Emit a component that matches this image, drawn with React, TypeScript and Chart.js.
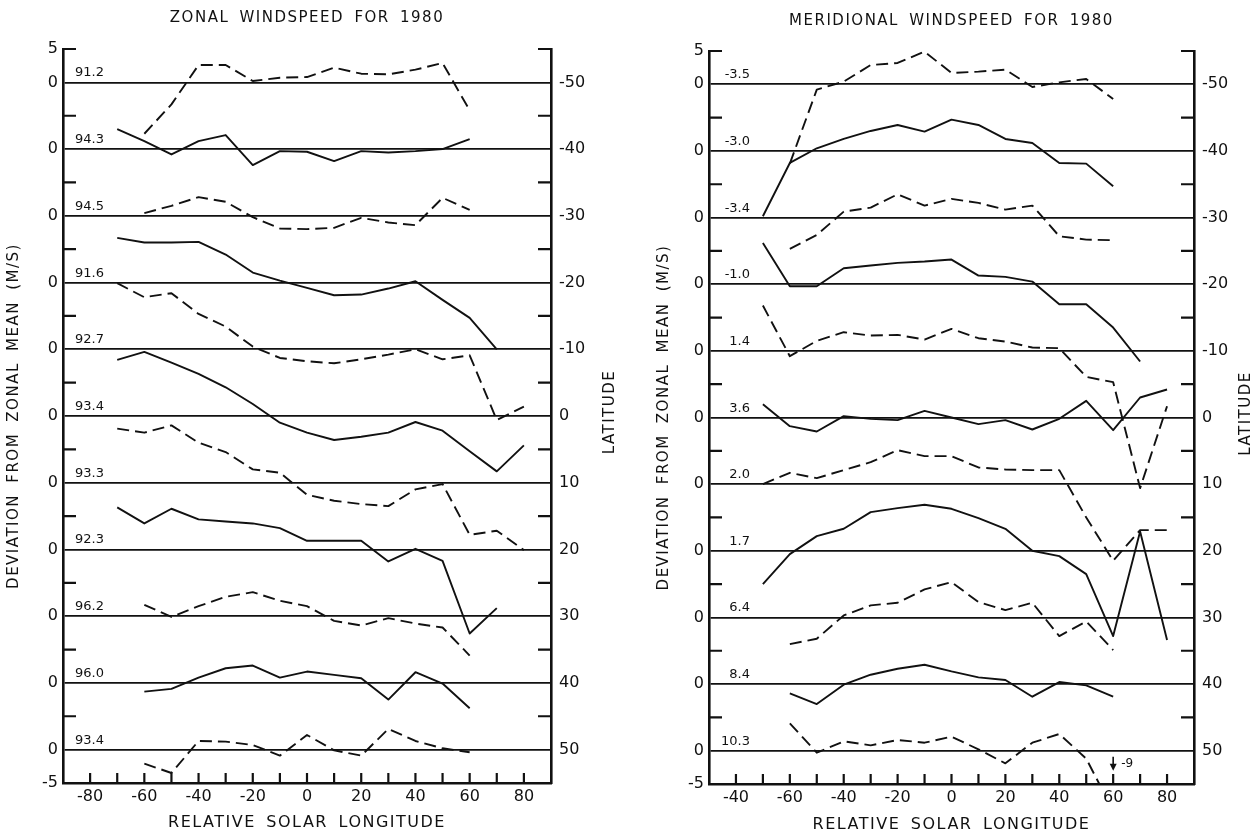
import React, { useEffect, useRef } from "react";
import { Chart, registerables } from "chart.js";

Chart.register(...registerables);

// ---------- data ----------
const longitudes = [-70, -60, -50, -40, -30, -20, -10, 0, 10, 20, 30, 40, 50, 60, 70, 80];
const latitudes = [-50, -40, -30, -20, -10, 0, 10, 20, 30, 40, 50];

// Zonal windspeed deviations (m/s) per latitude line
const zonalMeanLabels = ["91.2", "94.3", "94.5", "91.6", "92.7", "93.4", "93.3", "92.3", "96.2", "96.0", "93.4"];
const zonal50S = [null, -7.7, -3.3, 2.6, 2.6, 0.2, 0.7, 0.8, 2.2, 1.3, 1.2, 1.9, 2.9, -4.2, null, null];
const zonal40S = [3.0, 1.2, -0.8, 1.2, 2.1, -2.4, -0.3, -0.4, -1.8, -0.3, -0.5, -0.3, 0.0, 1.5, null, null];
const zonal30S = [null, 0.4, 1.5, 2.8, 2.1, -0.2, -1.9, -2.0, -1.8, -0.3, -1.0, -1.4, 2.7, 0.9, null, null];
const zonal20S = [6.7, 6.0, 6.0, 6.1, 4.2, 1.5, 0.3, -0.8, -1.9, -1.8, -0.9, 0.2, -2.6, -5.3, -10.0, null];
const zonal10S = [9.9, 7.8, 8.4, 5.3, 3.4, 0.4, -1.3, -1.8, -2.1, -1.5, -0.8, 0.0, -1.5, -0.9, -10.6, -8.6];
const zonalEq = [8.4, 9.6, 8.0, 6.3, 4.3, 1.8, -1.0, -2.5, -3.6, -3.1, -2.5, -0.9, -2.2, -5.3, -8.3, -4.4];
const zonal10N = [8.1, 7.5, 8.6, 6.0, 4.6, 2.0, 1.5, -1.8, -2.7, -3.2, -3.5, -1.0, -0.2, -7.8, -7.2, -10.1];
const zonal20N = [6.3, 3.9, 6.1, 4.5, 4.2, 3.9, 3.2, 1.3, 1.3, 1.3, -1.8, 0.1, -1.7, -12.6, -8.8, null];
const zonal30N = [null, 1.7, -0.1, 1.5, 2.9, 3.6, 2.3, 1.5, -0.7, -1.4, -0.3, -1.1, -1.7, -5.9, null, null];
const zonal40N = [null, -1.3, -0.9, 0.8, 2.2, 2.6, 0.8, 1.7, 1.2, 0.7, -2.5, 1.6, -0.1, -3.8, null, null];
const zonal50N = [null, -2.1, -3.5, 1.3, 1.2, 0.7, -0.9, 2.2, -0.1, -0.9, 3.1, 1.3, 0.2, -0.4, null, null];
const zonalSeries = [zonal50S, zonal40S, zonal30S, zonal20S, zonal10S, zonalEq, zonal10N, zonal20N, zonal30N, zonal40N, zonal50N];

// Meridional windspeed deviations (m/s) per latitude line
const meridionalMeanLabels = ["-3.5", "-3.0", "-3.4", "-1.0", "1.4", "3.6", "2.0", "1.7", "6.4", "8.4", "10.3"];
const mer50S = [null, -11.9, -0.8, 0.4, 2.9, 3.2, 4.9, 1.7, 1.9, 2.2, -0.4, 0.3, 0.8, -2.2, null, null];
const mer40S = [-9.8, -1.8, 0.4, 1.8, 3.0, 3.9, 2.9, 4.7, 3.9, 1.8, 1.2, -1.8, -1.9, -5.3, null, null];
const mer30S = [null, -4.7, -2.6, 0.9, 1.5, 3.5, 1.8, 2.8, 2.2, 1.2, 1.8, -2.8, -3.3, -3.4, null, null];
const mer20S = [6.2, -0.3, -0.3, 2.4, 2.8, 3.2, 3.4, 3.7, 1.3, 1.1, 0.4, -3.0, -3.0, -6.5, -11.6, null];
const mer10S = [6.8, -0.8, 1.5, 2.8, 2.3, 2.4, 1.7, 3.3, 1.9, 1.4, 0.5, 0.4, -3.9, -4.7, -20.6, -8.3];
const merEq = [2.0, -1.3, -2.1, 0.2, -0.2, -0.4, 1.0, 0.0, -1.0, -0.4, -1.8, -0.2, 2.5, -1.9, 3.0, 4.2];
const mer10N = [0.0, 1.7, 0.9, 2.1, 3.3, 5.1, 4.2, 4.2, 2.5, 2.2, 2.1, 2.1, -5.0, -11.5, -6.9, -6.9];
const mer20N = [-5.0, -0.5, 2.2, 3.3, 5.8, 6.4, 6.9, 6.3, 4.9, 3.3, 0.0, -0.8, -3.5, -12.8, 2.9, -13.4];
const mer30N = [null, -4.0, -3.2, 0.3, 1.8, 2.2, 4.2, 5.3, 2.3, 1.1, 2.2, -2.8, -0.6, -4.9, null, null];
const mer40N = [null, -1.4, -3.0, -0.1, 1.4, 2.3, 2.9, 1.9, 1.0, 0.6, -1.9, 0.3, -0.2, -1.9, null, null];
const mer50N = [null, 4.1, -0.3, 1.4, 0.8, 1.6, 1.2, 2.1, 0.2, -1.9, 1.2, 2.5, -1.2, -9.0, null, null];
const meridionalSeries = [mer50S, mer40S, mer30S, mer20S, mer10S, merEq, mer10N, mer20N, mer30N, mer40N, mer50N];

// Axis ticks
const deviationTickValues = [55, 50, 40, 30, 20, 10, 0, -10, -20, -30, -40, -50, -55];
const deviationTickLabels = ["5", "0", "0", "0", "0", "0", "0", "0", "0", "0", "0", "0", "-5"];
const minorTickValues = [55, 45, 35, 25, 15, 5, -5, -15, -25, -35, -45];
const longitudeTicks = [-80, -70, -60, -50, -40, -30, -20, -10, 0, 10, 20, 30, 40, 50, 60, 70, 80];
const zonalLongitudeLabels = ["-80", "", "-60", "", "-40", "", "-20", "", "0", "", "20", "", "40", "", "60", "", "80"];
const meridionalLongitudeLabels = ["-40", "", "-60", "", "-40", "", "-20", "", "0", "", "20", "", "40", "", "60", "", "80"];

const offScaleNote = { longitude: 60, latitude: 50, text: "-9" };

// ---------- rendering ----------
const FONT = "'DejaVu Sans', 'Noto Sans', sans-serif";
const INK = "#111";

type PanelCfg = {
  title: string;
  titleY: number;
  xTitleY: number;
  yTitleX: number;
  latTitleX: number;
  meanLabels: string[];
  series: (number | null)[][];
  xLabels: string[];
  leftWidth: number;
  rightWidth: number;
  topPad: number;
  bottomHeight: number;
  note?: typeof offScaleNote;
};

function drawSpaced(ctx: any, text: string, x: number, y: number, size: number, spacing: number, wordSp: number, rotate = false) {
  ctx.save();
  ctx.font = `${size}px ${FONT}`;
  ctx.fillStyle = INK;
  ctx.letterSpacing = `${spacing}px`;
  ctx.wordSpacing = `${wordSp}px`;
  ctx.textAlign = "center";
  ctx.textBaseline = "middle";
  ctx.translate(x, y);
  if (rotate) ctx.rotate(-Math.PI / 2);
  ctx.fillText(text, 0, 0);
  ctx.restore();
}

function decorPlugin(cfg: PanelCfg) {
  return {
    id: "decor",
    afterDraw(chart: any) {
      const { ctx, chartArea: a, scales } = chart;
      const xs = scales.x;
      const ys = scales.y;
      ctx.save();
      ctx.strokeStyle = INK;
      ctx.lineWidth = 2.2;
      ctx.lineCap = "butt";
      minorTickValues.forEach((v) => {
        const py = ys.getPixelForValue(v);
        ctx.beginPath();
        ctx.moveTo(a.left, py);
        ctx.lineTo(a.left + 13, py);
        ctx.moveTo(a.right - 13, py);
        ctx.lineTo(a.right, py);
        ctx.stroke();
      });
      longitudeTicks.forEach((v) => {
        const px = xs.getPixelForValue(v);
        ctx.beginPath();
        ctx.moveTo(px, a.bottom);
        ctx.lineTo(px, a.bottom - 10);
        ctx.stroke();
      });
      // mean value labels
      ctx.fillStyle = INK;
      ctx.font = `13px ${FONT}`;
      ctx.textAlign = "right";
      ctx.textBaseline = "alphabetic";
      cfg.meanLabels.forEach((t, i) => {
        const py = ys.getPixelForValue(-latitudes[i]);
        ctx.fillText(t, a.left + 41, py - 6);
      });
      // off-scale note
      if (cfg.note) {
        const px = xs.getPixelForValue(cfg.note.longitude);
        const py = ys.getPixelForValue(-cfg.note.latitude);
        ctx.lineWidth = 1.6;
        ctx.beginPath();
        ctx.moveTo(px, py + 6);
        ctx.lineTo(px, py + 15);
        ctx.stroke();
        ctx.beginPath();
        ctx.moveTo(px - 3.5, py + 13);
        ctx.lineTo(px + 3.5, py + 13);
        ctx.lineTo(px, py + 20);
        ctx.closePath();
        ctx.fill();
        ctx.font = `12px ${FONT}`;
        ctx.textAlign = "left";
        ctx.textBaseline = "middle";
        ctx.fillText(cfg.note.text, px + 8, py + 13);
      }
      ctx.restore();
      const cx = (a.left + a.right) / 2;
      const cy = (a.top + a.bottom) / 2;
      drawSpaced(ctx, cfg.title, cx, cfg.titleY, 15, 1.5, 4);
      drawSpaced(ctx, "RELATIVE SOLAR LONGITUDE", cx, cfg.xTitleY, 16, 1.5, 4);
      drawSpaced(ctx, "DEVIATION FROM ZONAL MEAN (M/S)", cfg.yTitleX, cy, 15, 1.5, 5, true);
      drawSpaced(ctx, "LATITUDE", cfg.latTitleX, cy - 4, 15, 1.5, 0, true);
    },
  };
}

function buildConfig(cfg: PanelCfg): any {
  const tickFont = { family: FONT, size: 16 };
  const datasets = cfg.series.map((vals, i) => ({
    label: cfg.meanLabels[i],
    data: longitudes
      .map((x, j) => (vals[j] == null ? null : { x, y: -latitudes[i] + (vals[j] as number) }))
      .filter((p) => p !== null),
    borderColor: INK,
    borderWidth: 1.9,
    borderDash: i % 2 === 0 ? [12, 6] : [],
    borderJoinStyle: "round",
    pointRadius: 0,
    tension: 0,
    fill: false,
    xAxisID: "x",
    yAxisID: "y",
  }));
  const lineValues = latitudes.map((l) => -l);
  return {
    type: "line",
    data: { datasets },
    options: {
      responsive: false,
      animation: false,
      devicePixelRatio: 1,
      events: [],
      layout: { padding: { top: cfg.topPad, left: 0, right: 0, bottom: 0 } },
      plugins: { legend: { display: false }, tooltip: { enabled: false }, title: { display: false } },
      scales: {
        x: {
          type: "linear",
          min: -90,
          max: 90,
          afterBuildTicks: (s: any) => {
            s.ticks = longitudeTicks.map((v) => ({ value: v }));
          },
          afterFit: (s: any) => {
            s.height = cfg.bottomHeight;
          },
          ticks: {
            autoSkip: false,
            maxRotation: 0,
            minRotation: 0,
            padding: 4,
            color: INK,
            font: tickFont,
            callback: (_v: any, i: number) => cfg.xLabels[i],
          },
          grid: { display: false, drawTicks: false, tickLength: 0 },
          border: { display: true, width: 2.6, color: INK },
        },
        y: {
          type: "linear",
          position: "left",
          min: -55,
          max: 55,
          afterBuildTicks: (s: any) => {
            s.ticks = deviationTickValues.map((v) => ({ value: v }));
          },
          afterFit: (s: any) => {
            s.width = cfg.leftWidth;
          },
          ticks: {
            autoSkip: false,
            padding: 5,
            color: INK,
            font: tickFont,
            callback: (_v: any, i: number) => deviationTickLabels[i],
          },
          grid: {
            display: true,
            drawTicks: false,
            tickLength: 0,
            lineWidth: 1.7,
            color: (c: any) => (c.tick && lineValues.includes(c.tick.value) ? INK : "rgba(0,0,0,0)"),
          },
          border: { display: true, width: 2.6, color: INK },
        },
        y2: {
          type: "linear",
          position: "right",
          min: -55,
          max: 55,
          afterBuildTicks: (s: any) => {
            s.ticks = latitudes.map((l) => ({ value: -l }));
          },
          afterFit: (s: any) => {
            s.width = cfg.rightWidth;
          },
          ticks: {
            autoSkip: false,
            padding: 8,
            color: INK,
            font: tickFont,
            callback: (_v: any, i: number) => String(latitudes[i]),
          },
          grid: { display: false, drawTicks: false, tickLength: 0 },
          border: { display: true, width: 2.6, color: INK },
        },
      },
    },
    plugins: [decorPlugin(cfg)],
  };
}

const zonalCfg: PanelCfg = {
  title: "ZONAL WINDSPEED FOR 1980",
  titleY: 18,
  xTitleY: 823,
  yTitleX: 14,
  latTitleX: 610,
  meanLabels: zonalMeanLabels,
  series: zonalSeries,
  xLabels: zonalLongitudeLabels,
  leftWidth: 63,
  rightWidth: 79,
  topPad: 49,
  bottomHeight: 50,
};

const meridionalCfg: PanelCfg = {
  title: "MERIDIONAL WINDSPEED FOR 1980",
  titleY: 21,
  xTitleY: 825,
  yTitleX: 34,
  latTitleX: 616,
  meanLabels: meridionalMeanLabels,
  series: meridionalSeries,
  xLabels: meridionalLongitudeLabels,
  leftWidth: 79,
  rightWidth: 64,
  topPad: 51,
  bottomHeight: 49,
  note: offScaleNote,
};

function Panel({ left, width, cfg }: { left: number; width: number; cfg: PanelCfg }) {
  const ref = useRef<HTMLCanvasElement>(null);
  useEffect(() => {
    const chart = new Chart(ref.current as HTMLCanvasElement, buildConfig(cfg));
    return () => chart.destroy();
  }, [cfg]);
  return (
    <canvas
      ref={ref}
      width={width}
      height={833}
      style={{ position: "absolute", left, top: 0, width, height: 833, display: "block" }}
    />
  );
}

export default function App() {
  return (
    <div style={{ position: "fixed", left: 0, top: 0, width: 1258, height: 833, background: "#fff", overflow: "hidden" }}>
      <Panel left={0} width={630} cfg={zonalCfg} />
      <Panel left={630} width={628} cfg={meridionalCfg} />
    </div>
  );
}
